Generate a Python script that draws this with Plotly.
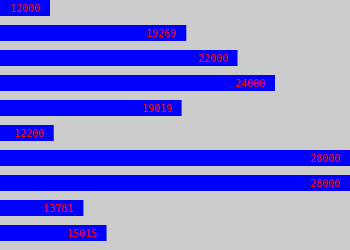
import plotly.graph_objects as go

values = [12000, 19269, 22000, 24000, 19019, 12200, 28000, 28000, 13781, 15015]
labels = [str(v) for v in values]
positions = list(range(len(values)))

fig = go.Figure()
fig.add_trace(go.Bar(
    x=values, y=positions, orientation="h",
    marker=dict(color="#0000ff", line=dict(width=0)),
    width=0.64, hoverinfo="none",
))
for p, v, t in zip(positions, values, labels):
    fig.add_annotation(x=v, y=p, text=t, showarrow=False, xanchor="right",
                       yanchor="middle", xshift=-8,
                       font=dict(family="DejaVu Sans Mono", size=10, color="#ff0000"))

fig.update_layout(
    width=350, height=250, margin=dict(l=0, r=0, t=0, b=0),
    paper_bgcolor="#cccccc", plot_bgcolor="#cccccc", showlegend=False,
    xaxis=dict(range=[9333, 28000], visible=False, fixedrange=True),
    yaxis=dict(range=[9.68, -0.32], visible=False, fixedrange=True),
)
fig.write_html("out.html", config={"displayModeBar": False})
